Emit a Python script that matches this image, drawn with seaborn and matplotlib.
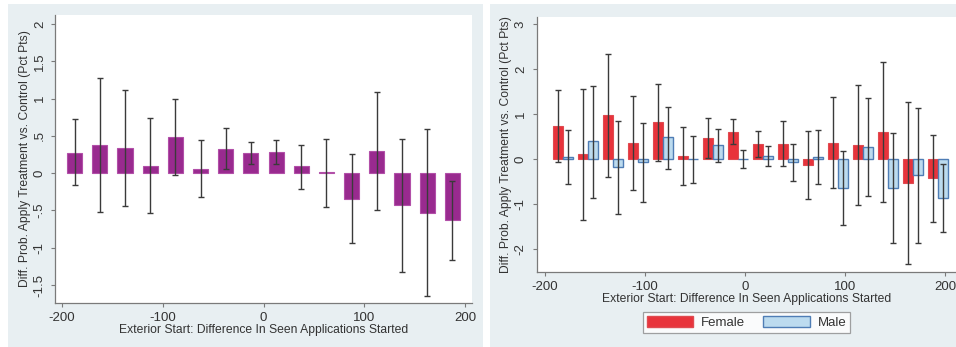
import numpy as np
import pandas as pd
import matplotlib
matplotlib.use("Agg")
import matplotlib.pyplot as plt
from matplotlib.patches import Rectangle, Patch
from matplotlib.ticker import FuncFormatter
import seaborn as sns

# bin centres (difference in seen applications started)
bins = [-187.5, -162.5, -137.5, -112.5, -87.5, -62.5, -37.5, -12.5,
        12.5, 37.5, 62.5, 87.5, 112.5, 137.5, 162.5, 187.5]

# left panel: pooled estimate with CI
pooled = [0.27, 0.38, 0.34, 0.10, 0.49, 0.06, 0.33, 0.27,
          0.28, 0.09, 0.01, -0.34, 0.30, -0.43, -0.53, -0.63]
pooled_hi = [0.72, 1.28, 1.12, 0.74, 0.99, 0.44, 0.60, 0.42,
             0.44, 0.38, 0.46, 0.26, 1.09, 0.46, 0.59, -0.10]
pooled_lo = [-0.165, -0.52, -0.44, -0.53, -0.02, -0.32, 0.06, 0.12,
             0.12, -0.21, -0.45, -0.94, -0.49, -1.33, -1.64, -1.17]

# right panel: by gender
female = [0.73, 0.10, 0.97, 0.36, 0.82, 0.07, 0.46, 0.59,
          0.33, 0.34, -0.13, 0.36, 0.31, 0.59, -0.54, -0.42]
female_hi = [1.53, 1.56, 2.34, 1.41, 1.67, 0.72, 0.90, 0.88,
             0.62, 0.85, 0.62, 1.37, 1.65, 2.16, 1.26, 0.54]
female_lo = [-0.07, -1.37, -0.40, -0.70, -0.04, -0.59, 0.01, 0.33,
             0.05, -0.15, -0.90, -0.65, -1.02, -0.96, -2.35, -1.40]
male = [0.04, 0.39, -0.19, -0.07, 0.48, 0.0, 0.30, -0.01,
        0.07, -0.07, 0.04, -0.65, 0.27, -0.66, -0.37, -0.88]
male_hi = [0.65, 1.62, 0.84, 0.81, 1.16, 0.51, 0.67, 0.19,
           0.29, 0.33, 0.65, 0.17, 1.36, 0.57, 1.14, -0.12]
male_lo = [-0.56, -0.87, -1.23, -0.96, -0.22, -0.53, -0.07, -0.21,
           -0.15, -0.49, -0.56, -1.47, -0.82, -1.88, -1.88, -1.62]

xticks = [-200, -100, 0, 100, 200]
left_yticks = [-1.5, -1, -0.5, 0, 0.5, 1, 1.5, 2]
right_yticks = [-2, -1, 0, 1, 2, 3]

xlabel = "Exterior Start: Difference In Seen Applications Started"
ylabel = "Diff. Prob. Apply Treatment vs. Control (Pct Pts)"

BG = "#e8eff2"
PURPLE = "#992a8f"
RED = "#e8333b"
LBLUE = "#bcdbef"
BLUE_EDGE = "#4f7db5"
ERR = "#3a3a3a"
AXIS = "#7a7a7a"
TXT = "#333333"

sns.set_style("white")
plt.rcParams["font.family"] = ["Liberation Sans", "DejaVu Sans"]
plt.rcParams["axes.unicode_minus"] = False

W, H = 956, 347
fig = plt.figure(figsize=(W / 100, H / 100), dpi=100, facecolor="white")

# panel backgrounds (Stata style graph region)
fig.add_artist(Rectangle((8 / W, 0), 475 / W, 343 / H, transform=fig.transFigure,
                         facecolor=BG, edgecolor="none", zorder=0))
fig.add_artist(Rectangle((490 / W, 0), 466 / W, 343 / H, transform=fig.transFigure,
                         facecolor=BG, edgecolor="none", zorder=0))

ax1 = fig.add_axes([55 / W, 1 - 303 / H, 417 / W, 288 / H])
ax2 = fig.add_axes([537 / W, 1 - 272 / H, 419 / W, 255 / H])


def short_num(v, pos=None):
    s = f"{v:g}"
    return s.replace("0.", ".")


def draw_err(ax, x, lo, hi):
    lo = np.asarray(lo)
    hi = np.asarray(hi)
    mid = (lo + hi) / 2
    ax.errorbar(x, mid, yerr=(hi - lo) / 2, fmt="none", ecolor=ERR,
                elinewidth=1.0, capsize=1.9, capthick=1.0, zorder=5)


def style_axes(ax, yticks, ypad, xlim, ylim):
    ax.set_facecolor("white")
    ax.set_xlim(*xlim)
    ax.set_ylim(*ylim)
    ax.set_xticks(xticks)
    ax.set_yticks(yticks)
    ax.yaxis.set_major_formatter(FuncFormatter(short_num))
    for s in ["top", "right"]:
        ax.spines[s].set_visible(False)
    for s in ["left", "bottom"]:
        ax.spines[s].set_color(AXIS)
        ax.spines[s].set_linewidth(0.9)
    ax.tick_params(axis="both", which="major", direction="out", length=3,
                   width=0.8, color=AXIS, labelsize=9.5, labelcolor=TXT,
                   bottom=True, left=True)
    ax.tick_params(axis="x", pad=3.5)
    ax.tick_params(axis="y", pad=ypad, labelrotation=90)
    for lab in ax.get_yticklabels():
        lab.set_va("center")
    ax.set_xlabel(xlabel, fontsize=8.7, color=TXT, labelpad=0)
    ax.set_ylabel(ylabel, fontsize=8.7, color=TXT, labelpad=2)


# left panel
df_left = pd.DataFrame({"bin": bins, "diff": pooled})
sns.barplot(data=df_left, x="bin", y="diff", orient="x", native_scale=True,
            width=0.6, color=PURPLE, saturation=1, errorbar=None,
            edgecolor="#b24fa8", linewidth=0.8, ax=ax1)
draw_err(ax1, bins, pooled_lo, pooled_hi)
style_axes(ax1, left_yticks, 3.6, (-207, 207), (-1.74, 2.12))

# right panel
male_pos = [b + 10 for b in bins]
df_f = pd.DataFrame({"pos": bins, "diff": female})
df_m = pd.DataFrame({"pos": male_pos, "diff": male})
sns.barplot(data=df_f, x="pos", y="diff", orient="x", native_scale=True,
            width=0.4, color=RED, saturation=1, errorbar=None,
            edgecolor="#e04a50", linewidth=0.8, ax=ax2)
sns.barplot(data=df_m, x="pos", y="diff", orient="x", native_scale=True,
            width=0.4, color=LBLUE, saturation=1, errorbar=None,
            edgecolor=BLUE_EDGE, linewidth=1.0, ax=ax2)
draw_err(ax2, bins, female_lo, female_hi)
draw_err(ax2, male_pos, male_lo, male_hi)
style_axes(ax2, right_yticks, 4.3, (-208, 211), (-2.52, 3.16))

handles = [Patch(facecolor=RED, edgecolor="#e04a50", label="Female"),
           Patch(facecolor=LBLUE, edgecolor=BLUE_EDGE, label="Male")]
leg = fig.legend(handles=handles, loc="center", bbox_to_anchor=(746.5 / W, 1 - 322.5 / H),
                 ncol=2, frameon=True, fancybox=False, edgecolor="#8a8a8a",
                 fontsize=9.5, handlelength=3.5, handleheight=0.9,
                 handletextpad=0.6, columnspacing=1.4, borderpad=0.3,
                 labelcolor=TXT)
leg.get_frame().set_linewidth(0.9)

fig.savefig("out.png", dpi=100, facecolor="white")
